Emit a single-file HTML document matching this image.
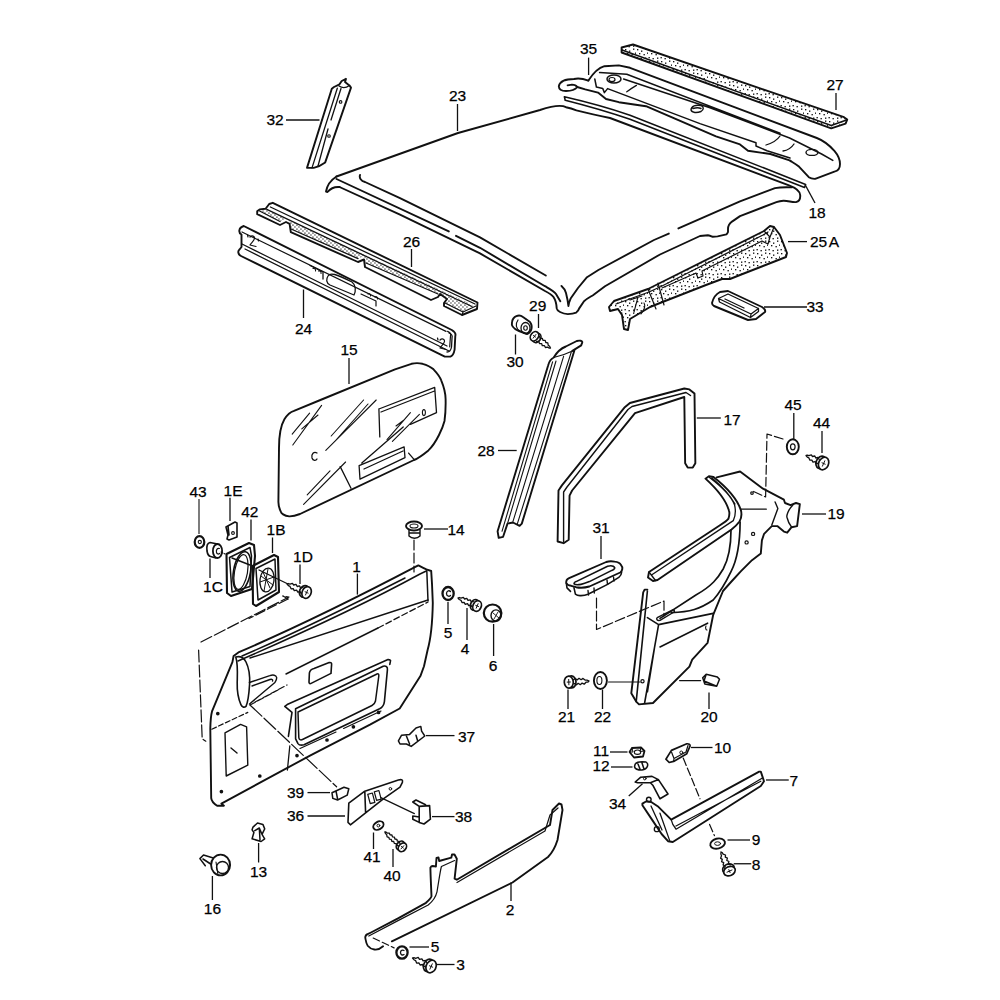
<!DOCTYPE html>
<html><head><meta charset="utf-8">
<style>
html,body{margin:0;padding:0;background:#fff;overflow:hidden;}
svg{display:block;}
text{font-family:"Liberation Sans",sans-serif;font-size:15.5px;fill:#000;}
</style></head>
<body>
<svg width="1000" height="1000" viewBox="0 0 1000 1000">
<defs>
<pattern id="dots" width="6" height="6" patternUnits="userSpaceOnUse">
<rect x="0.5" y="0.5" width="1.1" height="1.1" fill="#222"/>
<rect x="3.5" y="1.5" width="1.1" height="1.1" fill="#222"/>
<rect x="2" y="3.5" width="1.1" height="1.1" fill="#222"/>
<rect x="4.8" y="4.6" width="1.1" height="1.1" fill="#222"/>
</pattern>
<pattern id="dots2" width="4" height="4" patternUnits="userSpaceOnUse">
<rect x="0.3" y="0.5" width="1.3" height="1.2" fill="#222"/>
<rect x="2.3" y="2.4" width="1.3" height="1.2" fill="#333"/>
</pattern>
<pattern id="dots3" width="12" height="12" patternUnits="userSpaceOnUse"><rect x="1" y="1" width="1.35" height="1.35" fill="#111"/><rect x="5" y="2.5" width="1.35" height="1.35" fill="#111"/><rect x="9" y="0.5" width="1.35" height="1.35" fill="#111"/><rect x="3" y="5" width="1.35" height="1.35" fill="#111"/><rect x="7.5" y="6" width="1.35" height="1.35" fill="#111"/><rect x="11" y="4.5" width="1.35" height="1.35" fill="#111"/><rect x="0.5" y="9" width="1.35" height="1.35" fill="#111"/><rect x="4.5" y="10" width="1.35" height="1.35" fill="#111"/><rect x="9" y="9.5" width="1.35" height="1.35" fill="#111"/></pattern>
</defs>
<g id="labels" text-anchor="middle" stroke="#000" stroke-width="0.25">
<text transform="translate(275.0,125.0)">32</text>
<text transform="translate(457.5,101.0)">23</text>
<text transform="translate(588.5,54.0)">35</text>
<text transform="translate(835.0,90.0)">27</text>
<text transform="translate(817.0,218.0)">18</text>
<text transform="translate(818.5,247.0)">25</text>
<text transform="translate(834.0,247.0)">A</text>
<text transform="translate(815.0,312.0)">33</text>
<text transform="translate(411.5,246.5)">26</text>
<text transform="translate(303.5,333.5)">24</text>
<text transform="translate(537.7,310.5)">29</text>
<text transform="translate(515.0,367.0)">30</text>
<text transform="translate(349.0,354.5)">15</text>
<text transform="translate(486.0,455.5)">28</text>
<text transform="translate(732.0,424.5)">17</text>
<text transform="translate(793.0,410.0)">45</text>
<text transform="translate(821.6,428.0)">44</text>
<text transform="translate(836.0,519.0)">19</text>
<text transform="translate(601.0,533.0)">31</text>
<text transform="translate(456.0,535.0)">14</text>
<text transform="translate(198.0,496.5)">43</text>
<text transform="translate(233.0,496.0)">1E</text>
<text transform="translate(249.8,517.0)">42</text>
<text transform="translate(276.0,535.0)">1B</text>
<text transform="translate(303.0,562.0)">1D</text>
<text transform="translate(213.0,592.0)">1C</text>
<text transform="translate(356.6,571.5)">1</text>
<text transform="translate(448.0,638.0)">5</text>
<text transform="translate(465.0,654.0)">4</text>
<text transform="translate(493.0,671.0)">6</text>
<text transform="translate(566.5,721.5)">21</text>
<text transform="translate(602.5,721.5)">22</text>
<text transform="translate(709.0,721.5)">20</text>
<text transform="translate(466.5,741.5)">37</text>
<text transform="translate(601.0,756.0)">11</text>
<text transform="translate(722.5,752.5)">10</text>
<text transform="translate(601.0,771.0)">12</text>
<text transform="translate(793.8,786.0)">7</text>
<text transform="translate(617.5,808.5)">34</text>
<text transform="translate(295.5,797.5)">39</text>
<text transform="translate(295.5,821.0)">36</text>
<text transform="translate(463.5,821.5)">38</text>
<text transform="translate(756.0,845.0)">9</text>
<text transform="translate(756.0,869.5)">8</text>
<text transform="translate(372.0,861.5)">41</text>
<text transform="translate(392.0,880.5)">40</text>
<text transform="translate(258.6,876.5)">13</text>
<text transform="translate(212.4,914.0)">16</text>
<text transform="translate(510.0,915.0)">2</text>
<text transform="translate(435.0,952.0)">5</text>
<text transform="translate(460.5,969.5)">3</text>
</g>
<g id="leaders" stroke="#111" stroke-width="1.3" fill="none">
<path d="M286,120H319.5"/>
<path d="M457.5,104V131"/>
<path d="M588.6,57.6V75"/>
<path d="M836,93V110"/>
<path d="M805.6,185.6L815,203"/>
<path d="M788,241.6H807"/>
<path d="M764,307H807"/>
<path d="M411.5,249V267"/>
<path d="M303.5,289.5V318"/>
<path d="M538.5,314V328"/>
<path d="M515.5,334.5V354.5"/>
<path d="M349,358V384"/>
<path d="M498,450.5H516.7"/>
<path d="M696.8,418H720.8"/>
<path d="M793.8,413V439"/>
<path d="M822,431V453"/>
<path d="M802,514H826"/>
<path d="M601,536V559"/>
<path d="M424,529H448"/>
<path d="M199,499V534" stroke-width="1.1"/>
<path d="M230,497.75V521"/>
<path d="M251,519.5V540.5"/>
<path d="M272.5,537.5V553"/>
<path d="M300,564.5V584"/>
<path d="M210,558.5V578"/>
<path d="M357.4,573.6V594.6"/>
<path d="M448,602V624"/>
<path d="M467,608V640"/>
<path d="M493.6,624V656"/>
<path d="M568,689.5V709"/>
<path d="M602.5,689.5V709"/>
<path d="M709,692.5V709"/>
<path d="M426,735.6H454.5"/>
<path d="M610,752H627.5"/>
<path d="M691,747.5H712.5"/>
<path d="M611,767H632.5"/>
<path d="M766,780H788.75"/>
<path d="M628.75,796L642.5,783.75"/>
<path d="M307.5,792.6H330"/>
<path d="M307.5,816H345"/>
<path d="M432,816.6H454.5"/>
<path d="M727.5,840H750"/>
<path d="M733.75,863.75H751.25"/>
<path d="M373.5,832.5V849"/>
<path d="M393,849V867"/>
<path d="M258.6,843V862.5"/>
<path d="M212.4,876V900"/>
<path d="M511,882.5V901"/>
<path d="M409.5,947H429"/>
<path d="M436.5,964.5H454.5"/>
</g>
<g id="parts" stroke="#111" stroke-width="1.9" fill="none" stroke-linejoin="round" stroke-linecap="round">

<!-- 32 -->
<path d="M331.8,88.7 L307,167.9 L313.7,167.9 C318,167 323,164 325.2,162.4 L351,87.6 L349.4,85.4 L345,82.1 L346,78.8 L341.7,81 L339.5,84.3 L334,87 Z"/>
<path d="M337.3,88.2 L312,167.9 M341,88.5 L331,120 M328,129 L318,166 M349.4,85.4 C346,88 342,88 339,86" stroke-width="1.3"/>
<circle cx="340.6" cy="101.9" r="1.3" stroke-width="1.1"/><circle cx="329" cy="136" r="1.3" stroke-width="1.1"/>
<!-- 23 roof -->
<path d="M336.5,176.5 C380,161 420,147 458,133 L540,110 C552,106 562,105 566,107.2 C570,108 573,109 576.4,110.4 Q595,115 610,118 L789,185.3 C795,187.5 800,191 800.2,195.1 C800.5,199 799,201.5 796,202.1 C792,202.5 788,200.5 783.4,200.7 C780,200.8 778,201.5 776.4,202.1 L740,216.1 L732,221.6 C729,224 728,226 728,229 L728,232 C727.5,233.5 726.4,234.4 726.4,234.4 L717.6,236.4 L712.8,236.8 C710,235.5 709,235.2 708,235.2 L700,236 L660,254.5 L605,286.2 L593,295.2 C590,297 587,298.5 584,301.2 L579.2,308.4 C578.5,310.5 577,312 576.2,312.6 C574,313.5 571,314 567.8,314.1 C565,314 563,313.5 560,312 C558,311 557,310 556.7,308.4 C556.5,304 555.5,300 553.5,297 C552,295 549,293 545,291 L480,253.4 L400,214.6 L339.5,187"/>
<path d="M336.5,176.5 C331,180 327,186 326,191.5 L327.5,192 C330,189 334,186.5 339.5,187"/>
<path d="M336.5,179 L448.8,231.4 M456,235.8 L480,247.8 L545,286.2 C550,289 554,291 556,294 L560.3,301.2"/>
<path d="M360,175 C359,178 361,181 365,182 L400,198.2 L480,237.4 L545.8,275.5"/>
<path d="M561.5,285.9 C564,288 565.5,291 566,293 C567,297 568,302 568.4,306 C569,302 570,300 570.8,298.2 L578,288 L587,277.2 L598.4,270 L654,240 L668.8,233.6 M678.4,228.4 L740,201.4 L775,188.1 C780,187.2 786,187.2 791.8,187.4"/>
<!-- 25A -->
<path d="M609,307 L614,301 L648,289 L660,283 L764,231 L770,226 L774,227 L780,235 L787,253 L786,257 L740,275 L730,279 L722,279 L706,285 L660,303 L650,307 L630,319 L628,330 L624,329 L622,315 L618,309 L610,311 Z" fill="url(#dots3)"/>
<path d="M616,304 L649,292 L661,286.5 L763,235 L768,232" stroke-width="1.3"/>
<path d="M648,289 L656,309 M658,283 L664,305 M662,288 L696,273 L698,278 L703,276 L702,271 L762,241 L768,244 L770,237 M764,231 L770,237 L774,227" stroke-width="1.2"/>
<path d="M630,300 L642,296 M638,297 L634,312 M644,303 C646,306 644,310 641,314" stroke-width="1.1"/>
<!-- 33 -->
<path d="M712,303 C713,299 716,294 720,292 L728,291 L762,307 C765,309 765.5,311 765,312 L756,319 L748,320 L714,306 C712.5,305 712,304 712,303 Z"/>
<path d="M718.5,298.5 L728,294 L758.5,308.5 L751,314 Z M718.5,298.5 L719.5,302 L750.5,317.5 L751,314 M758.5,308.5 L758.5,311.5 L750.5,317.5 M725,299 L744,308" stroke-width="1.3"/>
<!-- 18 strip -->
<path d="M564.4,96.8 Q600,105 630,115.2 L805.6,184.4 L804.5,187.5 L630,119.2 Q600,109 565.2,100.2 Z" stroke-width="1.6"/>
<!-- 27 strip -->
<path d="M621.6,47.5 L633,44.5 L844,117.2 L847.2,119.6 L845.6,123.6 L831.2,128.4 L621.6,52.5 Z" fill="url(#dots3)"/>
<path d="M622,50 L831.2,125.5 L846.5,120" stroke-width="1.4"/>
<!-- 35 rail -->
<path d="M588.4,80.6 C592,75 598,68 604.4,66.2 L618.8,65.4 L630,67.8 L816.8,138 C822,140 830,146 834.4,150.8 C838,155 840,160 840,164 C840,168 838,171 834.4,171.6 L815.2,178.8 C812,179 810,178 808.8,177.2 L799.2,166.8 C796,164 792,162 789.6,160.4 L770.4,154 L748,150.8 L740,144.4 L716,136.4 L646,106.2 L618.8,102.2 L606,99 L598,92.6 L585.2,89.4 L577.2,87"/>
<path d="M588.4,80.6 C584,79 578,78 574,79 C567,79 560,81 558.8,86.2 C559,90 562,91 566,91 C570,91 575,90 577.2,87 C576,85 574,84.6 572,84.6 L567.6,85.4"/>
<path d="M599.6,72.6 L626.8,74.2 L780,133.2 M623.6,79 L710,107.8 L789.6,138 L821.6,154 L832.8,160.4" stroke-width="1.5"/>
<path d="M594.8,79 L596.4,87 L602.8,88.6 L604.4,92.6 L607.6,88.6 L700,123.6 L756,142.8 L756,146 L767,150.8 L790,158" stroke-width="1.5"/>
<ellipse cx="614" cy="79" rx="7" ry="4" stroke-width="1.5"/>
<ellipse cx="612" cy="79.5" rx="3" ry="2" stroke-width="1.2"/>
<path d="M691,110 C691,106 696,104.5 701,105.5 C704,106.5 704,109.5 701,111.5 C697,113 692,113 691,110 Z M693,108.5 C696,107.5 699,107.5 701,108.5" stroke-width="1.4"/>
<ellipse cx="812" cy="152.4" rx="6" ry="3" stroke-width="1.4"/>
<path d="M626.8,91.8 Q632,88 636.4,85.4 M780,136 Q776,142 766,145 M794,144 Q790,150 783,151" stroke-width="1.3"/>
<!-- 26 strip -->
<path d="M266.8,209.4 L473,305 L463,312 L445,303 L447,299 L440,294 L438,294 L366,263 L364,256 L358,258.6 L291,229 L289.6,220.8 L286,219 L280,221.5 L259.6,211 Z" fill="url(#dots2)" stroke="none"/>
<path d="M257.2,211.2 L259.6,209.4 L265.6,208.8 L269.2,204 L272.8,202.8 L477.5,302.5 L477,309 L462,315 L444,306 L444,303 L447,299 L440,294 L438,297 L431,300 L365,267 L364,259.5 L358,262 L290.8,232.2 L289.6,223.8 L286,222 L280,225 L257.2,214.2 Z"/>
<path d="M259.6,211 L280,221.5 M291,229 L358,258.6 M366,263 L438,294 M445,303 L463,312 L476,306 M463,312 L462,315" stroke-width="1.3"/>
<path d="M266.8,209.4 L472,306.5 M270.4,207 L475,304" stroke-width="1.3"/>
<!-- 15 glass -->
<path d="M279,448 C279,436 281,425 284.4,419.2 C287,415 290,412 294,410.8 L320.4,400 L395,369.3 L411.5,363.8 C415,363 419,363 422.5,363.8 C427,365 431,367 433.5,369.3 C437,373 440,377 441.2,380.3 C444,387 445.5,393 445.6,399 C445.8,407 445.5,414 444.5,421 C443,427 441,431 439,435 C436,441 432,447 428.4,450.4 C424,454 419,458 414,460 L300,514 C295,516 292,516.5 289.2,516.4 C284,516 281,513 280.8,511.6 C279,508 278.4,505 278.4,502 Z"/>
<path d="M378.9,409 L434.7,387.4 L436.5,412.6 L410.4,424.3 M378.9,409 L379.8,436.9 M381,412 L434.5,391" stroke-width="1.3"/>
<path d="M359.1,465.7 L404.1,446.8 L405,457.6 L360,479.2 Z M361.8,463 L403.2,427 M340.2,466.6 L351,488.2 M408.6,453.1 L414,459.4 M364,469 L403,451" stroke-width="1.3"/>
<ellipse cx="423.9" cy="412.6" rx="1.5" ry="3" stroke-width="1.1"/>
<path d="M292.2,434.2 L309.6,413.2 M301.8,428.8 L318,415 M292.8,445 L321.6,405.4 M331.2,436 L363.6,400 M336,440 L368,404 M325.8,450.4 L376.2,400 M307.2,494.8 L330,470.8 M303.6,504.4 L345.6,462 M387,439.6 L410.4,412.6 M392.4,441.4 L419.4,414.4 M396,426 L404,420" stroke-width="1.1"/>
<path d="M317,453 C314,451 311,454 312,458 C313,461 316,461 317,459" stroke-width="1.3"/>
<!-- 28 -->
<path d="M553.7,357.5 C557,352 562,348 565.8,346.5 L576.8,341 C580,340 582,341 582.3,342.1 C582,344 581,345 581.2,345.4 L572.4,350.9 L574.6,349.8 L521.8,523.6 L519.6,525.8 L513,522.5 L507.5,523.6 L503.1,536.8 L498.7,537.9 L497.6,531.3 L548.2,365.2 C549,362 551,359 553.7,357.5 Z"/>
<path d="M552.6,361.9 L502,531.3 M556,361 L507.5,523.6 M563.6,356.4 L513,521.4 M571.3,352 L517.4,523.6 M553.7,357.5 C560,356 566,354 572.4,350.9" stroke-width="1.1"/>
<!-- 30 nut -->
<path d="M512,322 C513,316 519,314 523,317 L530,322 C533,326 532,332 527,334 L519,331 C514,329 511,326 512,322 Z"/>
<ellipse cx="525.5" cy="328" rx="4.5" ry="5.5" stroke-width="1.3"/>
<ellipse cx="525.5" cy="328" rx="1.8" ry="2.2" stroke-width="1.1"/>
<path d="M518,320 C515,324 516,329 520,331" stroke-width="1.2"/>
<!-- 29 screw -->
<path d="M550.5,348.0 L549.6,346.3 L548.2,345.2 L547.8,342.8 L545.8,342.5 L545.2,340.4 L543.0,340.4 L542.3,338.3 L540.1,338.3 L539.5,336.2 M550.5,348.0 L549.3,348.2 L547.8,347.2 L545.4,347.5 L544.5,345.7 L542.3,345.7 L541.7,343.6 L539.5,343.6 L538.8,341.5 L536.6,341.5" stroke-width="1.3"/>
<ellipse cx="536.7" cy="337.9" rx="3.8" ry="5.0" transform="rotate(-143.7 536.7 337.9)" stroke-width="1.7"/>
<ellipse cx="534.5" cy="336.3" rx="3.8" ry="5.0" transform="rotate(-143.7 534.5 336.3)" stroke-width="1.7" fill="#fff"/>
<path d="M535.9,334.5 L533.2,338.1 M533.4,335.5 L535.6,337.1" stroke-width="1"/>

<!-- 17 seal -->
<path d="M557.6,541.5 L558.5,490.5 L561.9,485.4 L624.8,407.2 L629.9,403 L684.3,388.5 L689.4,389.4 L694.5,393.6 L695.35,463.3 L692.8,467.6 L687.7,467.6 L685.15,463.3 L684.3,397 L635,413.2 L572.1,490.5 L569.55,495.6 L568.7,539.8 L563.6,543.2 Z"/>
<path d="M563.6,541.5 L563.6,492 L567,487 L628,409.5 L632,406.5 L686,392.5 L690.5,395.5" stroke-width="1.4"/>
<!-- 45 washer -->
<ellipse cx="792.8" cy="446.8" rx="6" ry="7.5"/>
<ellipse cx="792.8" cy="446.8" rx="2.3" ry="3" stroke-width="1.2"/>
<!-- 44 screw -->
<path d="M806.0,455.5 L807.3,457.1 L808.9,457.9 L809.9,460.2 L811.9,460.1 L813.0,462.2 L815.2,461.6 L816.3,463.7 L818.5,463.1 M806.0,455.5 L807.2,455.1 L808.9,455.7 L811.3,454.9 L812.5,456.5 L814.8,456.0 L815.8,458.0 L818.1,457.5 L819.2,459.5" stroke-width="1.3"/>
<ellipse cx="821.1" cy="462.4" rx="4.9" ry="6.5" transform="rotate(24.4 821.1 462.4)" stroke-width="1.7"/>
<ellipse cx="823.6" cy="463.5" rx="4.9" ry="6.5" transform="rotate(24.4 823.6 463.5)" stroke-width="1.7" fill="#fff"/>
<path d="M822.4,466.2 L824.8,460.8 M825.2,464.2 L822.0,462.8" stroke-width="1"/>
<!-- dashed leader 45 -> 19 -->
<path d="M783,439 L767,434 L765.6,497 L752.5,491" stroke-width="1.2" stroke-dasharray="9,3"/>
<!-- 19 panel -->
<path d="M716.7,477.35 L740.1,471.5 L763,488.7 L783.9,499.7 L785,503 L790.5,505.2 L796,503 L799.85,504.1 L797.1,526.1 L791.6,527.2 L787.2,532.7 L783.9,531.6 L777.3,526.1 L771.8,526.1 L764.1,533.8 L761.9,540.4 L760.8,553.6 L752,560.2 L741,571.2 L731,582 L723,591 L713.2,614.8 L707.6,642.8 L692.2,659.6 L689.4,666.6 L653,703 L639,704.4 L636.2,701.6 L631.3,693.2 L643.2,592.4 L644.6,589.6 L647.4,589.6"/>
<path d="M775.1,501.9 L777.85,508.5 L771.8,525 M792.7,505.2 C788,510 786,516 787.2,518 C788,522 790,525 791.6,527.2" stroke-width="1.4"/>
<path d="M741,509.2 L766.3,509.2" stroke-width="1.3"/>
<circle cx="753.1" cy="533.9" r="1.6" stroke-width="1.2"/><circle cx="746.6" cy="542.4" r="1.6" stroke-width="1.2"/><circle cx="752" cy="493.1" r="1.3" stroke-width="1.2"/>
<!-- seal strip -->
<path d="M705.5,478.65 L708.9,476.2 L713.5,477 C725,486 737,498 741,510.5 C742,515 741,519 739.5,521.5 C737,525 734,527.5 731.5,529.5 L657.5,580 L653,581 L648,577.5 L649,572 L719.6,525.5 C725,522 727.5,520 728.5,518.6 C729.5,515 729.5,512 729,510.8 C726,500 718,490 705.5,478.65 Z"/>
<path d="M709.5,477.5 C722,487 732,498 734.6,505 C736,511 735,517 733.3,520.6 L651.5,575 M649,572 L655.5,580.5 M712,478 C724,488 731,497 735,504" stroke-width="1.3"/>
<!-- door opening curves -->
<path d="M731,530 C731,545 728,560 723.2,569 C718,578 712,586 695.9,595 L660,618.4" stroke-width="1.7"/>
<path d="M740.1,522 C740,545 736,562 731,571.6 C726,582 722,590 713.2,600 C700,609 690,612 671.2,612.6" stroke-width="1.7"/>
<!-- pillar -->
<path d="M647.4,591 L636.2,701.6 M647.4,617.6 L658.6,624.6 L644.6,703 M658.6,624.6 L713.2,613.4 M660,647 L707.6,623.2 M654.4,648.4 L647.4,691.8" stroke-width="1.6"/>
<path d="M657.2,617.6 L671.2,610.6 C674,609 675,611 674,612 L660,620.4 C657,621 656,619 657.2,617.6 Z" stroke-width="1.4"/>
<circle cx="642.5" cy="681.3" r="1.6" stroke-width="1.2"/>
<path d="M706,626 C705,628 706,630 707,630" stroke-width="1.1"/>
<!-- 31 handle -->
<path d="M566.3,583 C566,581 567,579 569.1,578.1 L606.2,562 C609,561 612,561 614.6,561.65 C618,562 620,563 620.9,564.8 C622,566 622.5,568 622.3,569 C622,571 621,572 620.2,572.5 L589.4,586.5 C584,588 580,588 576.1,587.2 L571.2,585.8 C569,585.5 567,585 566.3,583 Z"/>
<path d="M574,583.7 C574,582.5 575,582 576.1,581.6 L607.6,566.2 C610,565.5 612,565.6 613.2,566.2 C614.5,567 615,568 614.6,568.3 C614,569.5 613,570 611.8,570.4 L589.4,581.6 C586,583 583,584 581,584.4 C578,585 575,585 574,583.7 Z" stroke-width="1.6"/>
<path d="M574,587.9 L575.4,594.2 C577,595.5 579,595.8 581,595.6 C584,595.5 586,595 588,594.2 L607.6,584.4 L618.8,577.4 C620.5,576 621.5,574 621.6,572.5 M566.3,583 L567,587.9 L570.5,591.4" stroke-width="1.6"/>
<path d="M588,590.5 L588.5,595 M594,588 L594.3,593 M607,580 L607.5,584.4 M613.5,577 L614,581" stroke-width="1.4"/>
<!-- dashed 31 -> 19 -->
<path d="M596.5,598 L596.5,629.5 L664,601 L664,616" stroke-width="1.2" stroke-dasharray="10,3"/>
<!-- 21 screw -->
<path d="M589.0,681.0 L587.0,680.1 L585.0,680.1 L583.0,678.4 L581.1,679.7 L579.0,678.3 L577.1,679.9 L575.1,678.5 L573.2,680.1 M589.0,681.0 L588.0,682.0 L586.0,682.2 L584.2,684.2 L582.1,683.1 L580.3,684.7 L578.2,683.3 L576.3,684.9 L574.3,683.5" stroke-width="1.3"/>
<ellipse cx="571.5" cy="681.9" rx="4.5" ry="6.0" transform="rotate(177.0 571.5 681.9)" stroke-width="1.7"/>
<ellipse cx="568.8" cy="682.1" rx="4.5" ry="6.0" transform="rotate(177.0 568.8 682.1)" stroke-width="1.7" fill="#fff"/>
<path d="M568.7,679.4 L568.9,684.8 M567.2,682.1 L570.4,682.0" stroke-width="1"/>
<!-- 22 washer -->
<ellipse cx="600.4" cy="680.5" rx="6.5" ry="8.5"/>
<ellipse cx="599.4" cy="680.5" rx="2.5" ry="4" stroke-width="1.1"/>
<path d="M608.5,682 L640,682" stroke-width="1.2"/>
<!-- 20 clip -->
<path d="M702.7,677.8 L706.2,674.3 L717.4,677.1 L719.5,679.2 L716.7,686.2 L704.8,684.1 Z M706.2,674.3 L704,681 L716.7,686.2" stroke-width="1.5"/>
<path d="M679.6,680.6 L700.6,680.6" stroke-width="1.2"/>
<!-- 14 clip -->
<ellipse cx="414" cy="526" rx="8" ry="4.5"/>
<ellipse cx="414" cy="526" rx="4" ry="2" stroke-width="1.1"/>
<path d="M409,530 L409,536 C412,539 417,539 420,536 L420,530 M409,533 L420,533" stroke-width="1.4"/>
<path d="M414,540 L414,572" stroke-width="1.2" stroke-dasharray="10,3"/>

<!-- 1 door panel -->
<path d="M233.6,656 L238.4,652.4 C300,626 360,596 416.8,566.2 L418.4,565.4 L423.2,567.8 L426.4,569.4 L431.2,571 L432,583.8 L432.8,603 C432.5,620 431,638 427.6,650 L424,666.2 L420.4,676.1 L399.7,708.5 L370,724.7 L310,755.6 L221.4,803.6 L223.9,805.75 L217.1,805.75 C213,803 211.5,801 211.2,798.1 L210.3,728.4 C210.5,720 211,715 212,711.4 L232.4,662.1 Z"/>
<path d="M238,661 C300,634 365,604 420,574 L426.8,570.8 M426.8,570.8 L428,600.8 M242,656 C300,631 350,606 405,578" stroke-width="1.5"/>
<path d="M250,658 L428,600 M286,674 L378,628" stroke-width="1.4"/><path d="M378,628 L428,602" stroke-width="1.3" stroke-dasharray="6,3"/>
<path d="M235.8,657 C240,656 244,658 246,662 C249,668 250,676 249.6,684 C249,694 248,702 246,706.3 C244,708 242,707 240.9,704.6 C238,698 237,690 237.2,682.5 C237.5,672 238,664 235.8,657 Z" stroke-width="1.6"/>
<path d="M249.4,682.5 L269.8,675.7 C273,674.5 276,675 276.6,677.4 C277,679 276,680.5 274.9,682.5 L249.5,704 M252,686 L270,679.5 C272,679 273,679.5 272.5,681" stroke-width="1.4"/>
<path d="M250,705 L278,690 M255,702 L287,685" stroke-width="1.2" stroke-dasharray="6,3"/>
<path d="M309.4,672.8 C310,670 312,669 314,668.5 L329.2,662.6 C331,662.2 331.8,663 331.6,664.4 L331,673.4 L310.6,683.6 C309.5,684 309,683 309,682 Z" stroke-width="1.6"/>
<path d="M284.8,706.4 L287.2,704.6 L388,659.6 C390,659.5 391,660.5 390.4,661.4 L389.8,664.4 M284.8,706.4 L292,712.4 L288.4,736.4" stroke-width="1.6"/>
<path d="M295.6,708.8 L383.2,666.2 C386,665.5 387.8,667 387.4,669.8 L384.4,701.6 C384,705 382,707.5 379.6,708.8 L304,744.8 C301,745.5 299,745 298,743.6 L295.6,738.8 Z" stroke-width="1.6"/>
<path d="M298,712 L377,674 C378.5,673.5 379,674.5 378.8,676 L375.5,701 C375,703 374,704.5 372,705.5 L302.5,739.5 C300.5,740.5 299,739.5 298.8,737.5 Z" stroke-width="1.5"/>
<path d="M300,748.5 L336,732 M343.6,728.5 L381,711" stroke-width="1.2"/>


<path d="M225,732.8 L240.6,724.4 L246.6,726.8 L247.8,765.2 L226.2,776 Z M231,748 L237,753" stroke-width="1.4"/>
<path d="M211.8,729.2 L247.8,712.4" stroke-width="1.2" stroke-dasharray="5,2.5"/>
<path d="M289.8,746 L287.4,770" stroke-width="1.3"/>
<path d="M250.2,705.2 L336.6,786.8" stroke-width="1.2" stroke-dasharray="16,3"/>
<path d="M198.6,650 L202.2,738.8 L205.8,741.2 M201,642 L289,597 L282.8,596" stroke-width="1.2" stroke-dasharray="12,3"/>
<circle cx="217.8" cy="713.6" r="0.9"/><circle cx="259.8" cy="776" r="0.9"/><circle cx="221.4" cy="791.6" r="0.9"/><circle cx="297" cy="755.6" r="0.9"/><circle cx="327" cy="740" r="0.9"/><circle cx="353.4" cy="726.8" r="0.9"/><circle cx="378.6" cy="712.4" r="0.9"/>
<!-- 43 nut -->
<ellipse cx="199.5" cy="542" rx="4.8" ry="5.8" stroke-width="2.2"/>
<circle cx="199.8" cy="542" r="1.6" stroke-width="1.1"/>
<!-- 1C nut -->
<path d="M210,542.5 C207,543 206.5,547 207,551 C207.5,554 208.5,556 210.5,556.5 L216,558 M210,542.5 L217.5,544" stroke-width="1.7"/>
<ellipse cx="217.5" cy="551" rx="4.6" ry="7" stroke-width="1.8"/>
<path d="M219.5,548.5 C217,548 216,550 216.5,552.5 C217,554 218.5,554.5 219.5,553.5" stroke-width="1.2"/>
<path d="M221,552 L225,554" stroke-width="1.1" stroke-dasharray="2,1.5"/>
<!-- 1E clip -->
<path d="M226,527 L235,522 L237,523 L237,537 L229,540 L227,539 L228,535 L226,527 Z M228,526 L229,535" stroke-width="1.6"/>
<circle cx="233" cy="533" r="1.4" stroke-width="1.1"/>
<!-- 42 frame -->
<path d="M226.5,554 L249,543 L254,545 L255,556 L252,589 L231,596 L227,593 Z" stroke-width="2.1"/>
<path d="M229.5,557.5 L250,547.5 L251.5,556 L250,586.5 L232,592 Z" stroke-width="1.5"/>
<ellipse cx="242" cy="571.5" rx="8.5" ry="20" transform="rotate(10 242 571.5)" stroke-width="1.6"/>
<ellipse cx="241" cy="572" rx="6.5" ry="17.5" transform="rotate(10 241 572)" stroke-width="1.2"/>
<path d="M232,558 L250,565" stroke-width="1.4"/>
<!-- 1B frame -->
<path d="M252.5,566 L274,555 L278,557 L279,592 L256,606 L253,604 Z" stroke-width="2.1"/>
<path d="M256,568.5 L275,559 L276,590 L258,600 Z" stroke-width="1.5"/>
<ellipse cx="267" cy="580" rx="7" ry="12" transform="rotate(8 267 580)" stroke-width="1.3"/>
<path d="M263,572 L270,588 M268,569 L264,591 M260,582 L274,577 M261,576 L273,585" stroke-width="1"/>
<path d="M259,570 L288,584" stroke-width="1.3"/>
<!-- 1D screw -->
<path d="M287.0,584.0 L288.4,585.6 L290.0,586.4 L291.1,588.8 L293.2,588.6 L294.3,590.7 L296.6,590.1 L297.8,592.1 L300.1,591.6 L301.2,593.6 M287.0,584.0 L288.3,583.5 L290.0,584.2 L292.4,583.3 L293.7,585.0 L296.0,584.4 L297.2,586.5 L299.5,585.9 L300.6,588.0 L302.9,587.4" stroke-width="1.3"/>
<ellipse cx="304.1" cy="591.4" rx="4.5" ry="6.0" transform="rotate(23.4 304.1 591.4)" stroke-width="1.7"/>
<ellipse cx="306.6" cy="592.5" rx="4.5" ry="6.0" transform="rotate(23.4 306.6 592.5)" stroke-width="1.7" fill="#fff"/>
<path d="M305.5,595.0 L307.7,590.0 M308.1,593.1 L305.1,591.8" stroke-width="1"/>
<path d="M288,599 L249,618.5" stroke-width="1.2" stroke-dasharray="10,3"/>
<path d="M283,596 L288,599" stroke-width="1.2"/>

<!-- 5 washer -->
<ellipse cx="448.1" cy="593.5" rx="5.6" ry="6.5" stroke-width="2.3"/>
<path d="M450.5,591.5 C449,590 446.5,591 446.5,593.5 C446.5,596 449,597 450.5,595.5" stroke-width="1.3"/>
<!-- 4 screw -->
<path d="M458.0,598.0 L459.3,599.5 L461.0,600.3 L462.0,602.6 L464.1,602.3 L465.3,604.3 L467.5,603.7 L468.7,605.7 L470.9,605.2 L472.1,607.1 M458.0,598.0 L459.3,597.5 L461.0,598.2 L463.3,597.3 L464.6,599.0 L466.8,598.4 L468.0,600.4 L470.2,599.8 L471.4,601.8 L473.6,601.2" stroke-width="1.3"/>
<ellipse cx="474.6" cy="604.9" rx="4.1" ry="5.5" transform="rotate(22.6 474.6 604.9)" stroke-width="1.7"/>
<ellipse cx="477.1" cy="606.0" rx="4.1" ry="5.5" transform="rotate(22.6 477.1 606.0)" stroke-width="1.7" fill="#fff"/>
<path d="M476.2,608.2 L478.1,603.7 M478.5,606.5 L475.7,605.4" stroke-width="1"/>
<!-- 6 nut -->
<ellipse cx="492.6" cy="613.1" rx="8.8" ry="8.6" stroke-width="2.2"/>
<ellipse cx="496" cy="615.5" rx="5" ry="5.6" stroke-width="1.4"/>
<path d="M493,613 L499,618 M498,612 L494,619" stroke-width="0.9"/>
<!-- 37 -->
<path d="M398.4,740.8 L401.6,735.2 L409.6,734.4 L416,728 L420.8,726.4 L421.6,731.2 L424.8,736 L411.2,746.4 L406.4,744 L400,744 Z M406.4,736 L409.6,744 M416,735.2 L417.6,740.8" stroke-width="1.5"/>
<!-- 39 -->
<path d="M332,792.8 L344,787.2 L348.8,788.8 L347.2,795.2 L337.6,800 L332.8,798.4 Z M336,791 L337.6,799" stroke-width="1.5"/>
<!-- 36 -->
<path d="M348.8,803.2 L364.8,791.2 L398.4,780 C402,779 403,780 402.4,782.4 L400,787.2 L384,798.4 L365.6,812.8 L350.4,824.8 L348,822.4 Z M364.8,791.2 L365.6,812.8" stroke-width="1.6"/>
<rect x="368.8" y="793.6" width="4.8" height="9.6" stroke-width="1.2" transform="rotate(-15 371 798)"/>
<rect x="375.2" y="791.2" width="4.8" height="8.8" stroke-width="1.2" transform="rotate(-15 377 795)"/>
<circle cx="390.4" cy="788.8" r="1.3" stroke-width="1"/>
<path d="M380.8,797.6 L414.4,813.6" stroke-width="1.2"/>
<!-- 38 -->
<path d="M419.2,806.4 L429.6,805.6 L430.4,819.2 L424,824 L419.2,822.4 Z M419.2,806.4 L412.8,802 L416,800 L425.6,804.8 M419.2,817 L412.8,816 L412.8,819.2 L419.2,822.4" stroke-width="1.6"/>
<!-- 41 washer -->
<ellipse cx="378.4" cy="825.6" rx="5.5" ry="3.8" transform="rotate(-30 378.4 825.6)"/>
<circle cx="378.4" cy="825.6" r="1.4" stroke-width="1"/>
<!-- 40 screw -->
<path d="M384.8,832.0 L385.6,833.6 L386.7,834.7 L387.1,836.8 L388.8,837.3 L389.4,839.1 L391.3,839.4 L391.8,841.3 L393.7,841.5 L394.3,843.4 L396.2,843.6 L396.7,845.5 L398.6,845.8 M384.8,832.0 L385.9,832.0 L387.2,833.0 L389.3,833.1 L390.0,834.8 L391.9,835.0 L392.5,836.9 L394.4,837.1 L394.9,839.0 L396.8,839.3 L397.4,841.2 L399.3,841.4 L399.8,843.3" stroke-width="1.3"/>
<ellipse cx="400.4" cy="845.5" rx="3.6" ry="4.8" transform="rotate(41.0 400.4 845.5)" stroke-width="1.7"/>
<ellipse cx="402.4" cy="847.3" rx="3.6" ry="4.8" transform="rotate(41.0 402.4 847.3)" stroke-width="1.7" fill="#fff"/>
<path d="M401.0,848.9 L403.8,845.7 M403.4,848.1 L401.4,846.4" stroke-width="1"/>
<!-- 13 -->
<path d="M253,827.1 L257.5,823 L262.9,824.4 L264.7,828.9 L262,834.3 L264.7,838.8 L261.1,841.5 L252.1,838.8 L253.9,832.5 L252.1,829.8 Z M254.8,830.7 L259.3,828 L262,834.3 M259.3,828 L260,840" stroke-width="1.5"/>
<!-- 16 -->
<ellipse cx="220.6" cy="865" rx="9.5" ry="10.4"/>
<circle cx="222.5" cy="867.5" r="6" stroke-width="1.3"/>
<path d="M199.9,858.6 L203.5,855 L212.5,857.7 M205.3,865.8 L199.9,858.6 M203,859 L210.7,864" stroke-width="1.5"/>
<path d="M216,862 L218,875" stroke-width="1.1"/>
<!-- 2 sill -->
<path d="M366.6,934.7 L371,932.5 L398.5,918.2 L426,902.8 C430,899 431.5,897 431.5,896.2 C431,885 430.5,875 430.4,867.6 C431,866.5 432,866 432.6,866 L435.9,866.5 L436.5,858 L438.5,857.5 L439.2,861 L451.3,857.7 L452,854.5 L454.5,854.5 L456.8,858.8 L454.6,878.6 L456.8,879.7 L550,825 L552.5,810 L559,803.5 L561.5,804.5 L562.5,810 L557.5,840 C555,848 552,853 548,857 L512.5,882.5 L391.9,941.3"/>
<path d="M366.6,934.7 C365,936 365,937.5 365.5,939.1 C366,942 366.5,944 367.7,945.7 C369.5,948 371.5,949 374.3,949.5 C377,950 380,949 383.1,946.25" stroke-width="1.8"/>
<path d="M368.8,936 L398.5,920.4 L428.2,905 C433,901 436,896 437,891.8 C439,880 440,872 441.4,866.5 L454.6,860.5 M457,882.5 L545,831 L550,815 L558,808" stroke-width="1.2"/>
<path d="M373.2,938 L394.1,947.9" stroke-width="1.2" stroke-dasharray="7,3"/>
<!-- 5b washer -->
<ellipse cx="402" cy="952.5" rx="5.6" ry="6.2" stroke-width="2.3"/>
<path d="M404,950.5 C402.5,949.5 400.5,950.5 400.5,952.5 C400.5,955 402.5,955.5 404,954.5" stroke-width="1.3"/>
<!-- 3 screw -->
<path d="M412.5,958.0 L413.9,959.7 L415.6,960.6 L416.6,963.1 L418.9,962.9 L420.1,965.0 L422.5,964.5 L423.6,966.6 L426.0,966.1 M412.5,958.0 L413.9,957.6 L415.7,958.3 L418.2,957.4 L419.5,959.3 L421.9,958.8 L423.1,960.9 L425.5,960.4 L426.7,962.5" stroke-width="1.3"/>
<ellipse cx="428.6" cy="965.4" rx="4.9" ry="6.5" transform="rotate(24.6 428.6 965.4)" stroke-width="1.7"/>
<ellipse cx="431.1" cy="966.5" rx="4.9" ry="6.5" transform="rotate(24.6 431.1 966.5)" stroke-width="1.7" fill="#fff"/>
<path d="M429.9,969.2 L432.3,963.8 M432.7,967.2 L429.5,965.8" stroke-width="1"/>

<!-- 7 trim -->
<path d="M642.4,803.6 L646.4,801.2 L651.2,802 L658.4,806.8 L671.2,819.6 L759.2,771.6 L760.8,771.6 L762.4,776.4 L764,781.2 L760.8,786 L672.8,842 L668,841.2 L661.6,834 L652,819.6 L642.4,805.2 Z"/>
<path d="M671.2,819.6 L672.8,824.4 L676,829.2 L762.4,778 M676,826 L760.8,781.2 M660,813.2 L669.6,840.4 M651,806 L662,830" stroke-width="1.3"/>
<circle cx="648.8" cy="799.6" r="2.3" stroke-width="1.4"/>
<circle cx="656.8" cy="829.2" r="2.5" stroke-width="1.3"/>
<!-- 10 clip -->
<path d="M665.9,759.2 L671.4,750.4 L686.8,743.8 C688.5,743.5 690.5,744.5 690.1,746 L686.8,753.7 L673.6,761.4 L669.2,762.5 Z" stroke-width="1.7"/>
<path d="M671.5,752 L674,758.5 L686,752 L688,745.5 M674,758.5 L673.6,761.4" stroke-width="1.2"/>
<circle cx="681.3" cy="752.5" r="1.5" stroke-width="1"/>
<path d="M683.2,758 L700,798.8 M709.6,824.4 L714.4,835.6" stroke-width="1.2" stroke-dasharray="8,3"/>
<!-- 11 nut -->
<path d="M629.5,752 L632,748 L641,747.5 L644.5,751 L643,756.5 L634,757.5 Z" stroke-width="1.8"/>
<ellipse cx="637.5" cy="752.2" rx="3.2" ry="2.2" stroke-width="1.1"/>
<path d="M632,748 L633,752 L629.5,752 M641,747.5 L640,751.5 L644.5,751" stroke-width="1"/>
<!-- 12 clip -->
<path d="M634.6,767 C634,762 640,761 646,762 C649,764 648,769 642,770 C638,770 635,769 634.6,767 Z M638,764 L640,769 M642,763 L644,769" stroke-width="1.5"/>
<!-- 34 bracket -->
<path d="M635.2,782 L640.8,777.2 L652,776.4 L658.4,779.6 L668,794 L660,798.8 L652.8,785.2 L650.4,782.8 L637.6,782.8 Z M650.4,782.8 L658.4,779.6" stroke-width="1.6"/>
<circle cx="644.8" cy="778.6" r="1.3" stroke-width="1"/>
<!-- 9 washer -->
<ellipse cx="717.6" cy="843.6" rx="7.5" ry="5" transform="rotate(-15 717.6 843.6)"/>
<ellipse cx="717.6" cy="843.6" rx="3" ry="1.8" stroke-width="1"/>
<!-- 8 screw -->
<path d="M721.0,852.0 L720.9,854.1 L721.5,855.8 L720.6,858.2 L722.3,859.4 L721.6,861.7 L723.7,862.7 L723.1,865.0 L725.2,866.1 L724.6,868.4 M721.0,852.0 L722.2,852.5 L723.1,854.1 L725.5,855.0 L725.3,857.1 L727.4,858.1 L726.8,860.4 L728.9,861.5 L728.3,863.7 L730.4,864.8" stroke-width="1.3"/>
<ellipse cx="728.4" cy="868.6" rx="4.5" ry="6.0" transform="rotate(66.0 728.4 868.6)" stroke-width="1.7"/>
<ellipse cx="729.5" cy="871.1" rx="4.5" ry="6.0" transform="rotate(66.0 729.5 871.1)" stroke-width="1.7" fill="#fff"/>
<path d="M727.0,872.2 L732.0,870.0 M730.1,872.6 L728.8,869.6" stroke-width="1"/>
<!-- 24 channel -->
<path d="M243.75,226 L451.8,330 C455,332 456,334 455.3,336 L454.6,349.6 C454,353 452,356 450.4,356.6 L444.8,356.6 L241,256 C238,254.5 237.5,251 239.5,249.5 L241.5,247 L241.5,234.5 C238.5,233 238,228 243.75,226 Z"/>
<path d="M242,232 L446,331.4 M245,249 L449,351 M242,244 L447,346" stroke-width="1.2"/>
<path d="M447.6,331.4 C451,333 451,334 450.5,336 L449.7,346.8" stroke-width="1.2"/>
<path d="M310,265.5 L323,272 L323,279 M328,276 C330,272 336,274 352,282 C356,285 356,291 354,295 L330,285 C326,283 326,279 328,276 Z" stroke-width="1.3"/>
<path d="M361,294 L376,301 L376,306" stroke-width="1.2"/>
<path d="M250,237 C252,235 255,236 254.5,238.5 C254,241 251,243 250,245 L256,246.5 M247.5,235 L248,237 M258,239 L258.5,241" stroke-width="1.2"/>
<path d="M440,340 C442,338 445,339 444.5,341.5 C444,344 441,346 440,348 L446,349.5 M437.5,338 L438,340" stroke-width="1.2"/>
<path d="M313,268.5 C314.5,268 316,269 315.5,271 M318.5,271 C320,270.5 321.5,271.5 321,273.5" stroke-width="1.1"/>
<path d="M368,294 C369,293 371,294 370.5,296 M375,297 C376,296 378,297 377.5,299" stroke-width="1.1"/>
<path d="M449,333 C452,334 452.5,336 452,338 L451.5,347 C451,350 449,352 447,352" stroke-width="1.3"/>
</g>
</svg>
</body></html>
